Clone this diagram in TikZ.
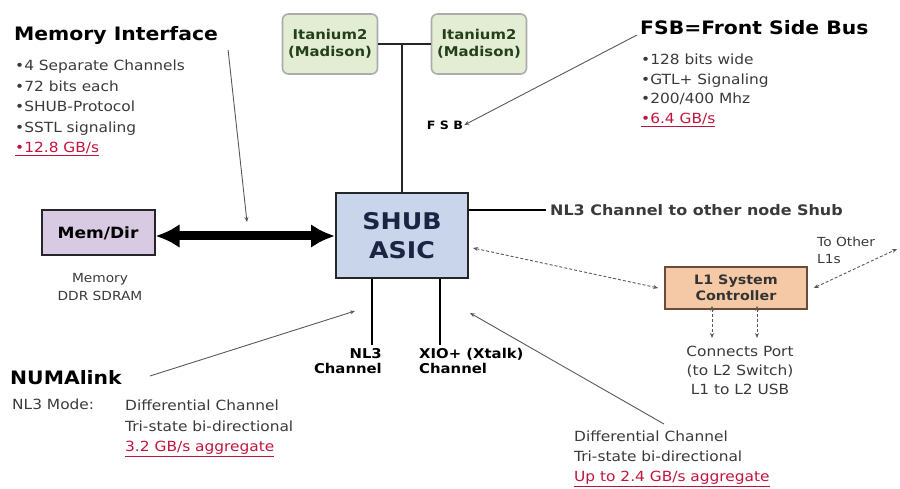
\documentclass[tikz,border=0pt]{standalone}
\usepackage{fontspec}
\setmainfont{DejaVu Sans}[FakeStretch=1.1]
\usetikzlibrary{arrows.meta}
\definecolor{ratered}{HTML}{C0143C}
\definecolor{itfill}{HTML}{E2EDD3}
\definecolor{itdark}{HTML}{24401A}
\definecolor{shubfill}{HTML}{C9D5EA}
\definecolor{shubtext}{HTML}{1C2444}
\definecolor{memfill}{HTML}{D8CAE2}
\definecolor{l1fill}{HTML}{F5C9A6}
\definecolor{l1edge}{HTML}{6B4A3A}
\definecolor{bodytext}{HTML}{3A3A3A}
\newcommand{\rate}[1]{{\color{ratered}\underline{#1}}}
\begin{document}
\begin{tikzpicture}[x=1pt,y=-1pt,
  titletext/.style={font=\bfseries\fontsize{18.5}{20}\selectfont, inner sep=0pt, anchor=west},
  bullets/.style={font=\fontsize{14}{20.5}\selectfont, text=bodytext, align=left, inner sep=0pt, anchor=north west},
  cpu/.style={draw=gray!65, line width=1.6pt, rounded corners=6pt, fill=itfill, minimum width=95pt, minimum height=60pt,
    font=\bfseries\fontsize{13.5}{17}\selectfont, text=itdark, align=center, inner sep=2pt},
  bus/.style={line width=2.6pt, draw=black!85},
  ptr/.style={draw=gray!70!black, line width=0.9pt, -{Stealth[length=5pt,width=4pt]}},
  dashptr/.style={draw=gray!70!black, line width=0.9pt, densely dashed, {Stealth[length=5pt,width=4pt]}-{Stealth[length=5pt,width=4pt]}},
  chan/.style={font=\bfseries\fontsize{13.5}{15.5}\selectfont, inner sep=0pt}]
\useasboundingbox (0,0) rectangle (900,489);

% Memory interface block
\node[titletext] (memtitle) at (14,35) {Memory Interface};
\node[bullets] (membul) at (15,60) {•4 Separate Channels\\•72 bits each\\•SHUB-Protocol\\•SSTL signaling\\\rate{•12.8 GB/s}};

% Processors on the front side bus
\node[cpu] (it1) at (330,44) {Itanium2\\(Madison)};
\node[cpu] (it2) at (479,44) {Itanium2\\(Madison)};

% SHUB hub chip
\node[draw=black!85, line width=2pt, fill=shubfill, minimum width=132pt, minimum height=85pt,
  font=\bfseries\fontsize{23}{29}\selectfont, text=shubtext, align=center] (shub) at (402,236) {SHUB\\ASIC};

\coordinate (fsbj) at (shub.north |- it1.east);
\draw[bus] (it1.east) -- (it2.west);
\draw[bus] (fsbj) -- (shub.north);

% FSB description
\node[font=\bfseries\fontsize{11.5}{14}\selectfont, inner sep=1pt] (fsblbl) at (445,125) {F S B};
\node[titletext] (fsbtitle) at (640,28) {FSB=Front Side Bus};
\node[bullets, font=\fontsize{14}{19.5}\selectfont] (fsbbul) at (641,54) {•128 bits wide\\•GTL+ Signaling\\•200/400 Mhz\\\rate{•6.4 GB/s}};
\draw[ptr] ([xshift=-3pt,yshift=-7pt]fsbtitle.west) -- (fsblbl.east);

% Memory / directory
\node[draw=black!85, line width=2pt, fill=memfill, minimum width=113pt, minimum height=45pt,
  font=\bfseries\fontsize{15.5}{18}\selectfont] (memdir) at (98,233) {Mem/Dir};
\node[font=\fontsize{12.5}{18}\selectfont, text=bodytext, align=center, inner sep=0pt, anchor=north] (memlbl) at (100,273) {Memory\\DDR SDRAM};
\draw[line width=9pt, {Latex[length=24pt,width=24pt]}-{Latex[length=24pt,width=24pt]}] (memdir.east |- 0,236) -- (shub.west |- 0,236);
\coordinate (memtip) at (247,222);
\draw[ptr] ([xshift=10pt,yshift=-15pt]memtitle.east) -- (memtip);

% NL3 channel to other node
\node[font=\bfseries\fontsize{14.5}{16}\selectfont, text=bodytext, inner sep=0pt, anchor=west] (nl3txt) at (550,210) {NL3 Channel to other node Shub};
\draw[line width=2pt] (shub.east |- nl3txt.west) -- ([xshift=-4pt]nl3txt.west);

% L1 system controller
\node[draw=l1edge, line width=1.6pt, fill=l1fill, minimum width=142pt, minimum height=42pt,
  font=\bfseries\fontsize{13}{16}\selectfont, text=black!80, align=center] (l1) at (736,288) {L1 System\\Controller};
\coordinate (shubr) at (473,248);
\draw[dashptr] ([xshift=-6pt]l1.west) -- (shubr);
\node[font=\fontsize{12.5}{16.5}\selectfont, text=bodytext, align=left, inner sep=0pt, anchor=north west] (toother) at (817,237) {To Other\\L1s};
\coordinate (otherend) at (897,249);
\draw[dashptr] ([xshift=6pt]l1.east) -- (otherend);
\coordinate (l1a) at (712,338);
\coordinate (l1b) at (757,338);
\draw[dashptr] (l1.south -| l1a) ++(0,4pt) -- (l1a);
\draw[dashptr] (l1.south -| l1b) ++(0,4pt) -- (l1b);
\node[font=\fontsize{14}{19}\selectfont, text=bodytext, align=center, inner sep=0pt, anchor=north] (l1note) at (740,346) {Connects Port\\(to L2 Switch)\\L1 to L2 USB};

% Channels below the SHUB
\coordinate (nl3end) at (372,345);
\coordinate (xioend) at (440,345);
\draw[line width=2.6pt] (shub.south -| nl3end) -- (nl3end);
\draw[line width=2.6pt] (shub.south -| xioend) -- (xioend);
\node[chan, align=right, anchor=north east] (nl3ch) at (382,348) {NL3\\Channel};
\node[chan, align=left, anchor=north west] (xioch) at (419,348) {XIO+ (Xtalk)\\Channel};

% NUMAlink description
\node[titletext] (numatitle) at (10,378) {NUMAlink};
\node[font=\fontsize{14}{16}\selectfont, text=bodytext, inner sep=0pt, anchor=west] (nl3mode) at (12,404) {NL3 Mode:};
\node[bullets] (numabul) at (125,400) {Differential Channel\\Tri-state bi-directional\\\rate{3.2 GB/s aggregate}};
\coordinate (numatip) at (355,311);
\draw[ptr] ([xshift=28pt,yshift=2pt]numatitle.east) -- (numatip);

% XIO description
\node[bullets, font=\fontsize{14}{20}\selectfont] (xiobul) at (574,431) {Differential Channel\\Tri-state bi-directional\\\rate{Up to 2.4 GB/s aggregate}};
\coordinate (xiotip) at (470,313);
\draw[ptr] ([xshift=90pt,yshift=7pt]xiobul.north west) -- (xiotip);
\end{tikzpicture}
\end{document}
